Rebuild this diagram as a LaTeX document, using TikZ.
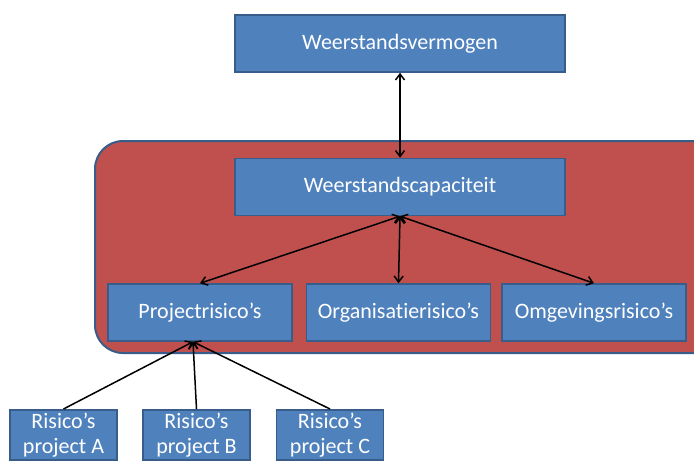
\documentclass[tikz,border=0pt]{standalone}
\usepackage{fontspec}
\setmainfont{Carlito}[Ligatures=NoCommon]
\usepackage{xcolor}
\usetikzlibrary{arrows.meta,positioning}
\definecolor{boxblue}{HTML}{4F81BD}
\definecolor{boxline}{HTML}{385D8A}
\definecolor{boxred}{HTML}{C0504D}
\tikzset{
  wbox/.style={draw=boxline, fill=boxblue, line width=1.5pt, text=white, align=center, font=\fontsize{22}{27}\selectfont, inner sep=0pt, minimum height=57pt},
  rbox/.style={wbox, minimum width=184pt},
  pbox/.style={wbox, minimum width=107pt, minimum height=0pt, inner ysep=3pt, anchor=north, font=\fontsize{22}{25}\selectfont},
  redbox/.style={draw=boxline, fill=boxred, line width=2pt, rounded corners=28pt},
  warr/.style={{Straight Barb[length=6pt,width=9pt]}-{Straight Barb[length=6pt,width=9pt]}, line width=1.5pt},
  parr/.style={-{Straight Barb[length=6pt,width=9pt]}, line width=1.5pt}
}

\begin{document}
\begin{tikzpicture}[x=1pt,y=-1pt]
\clip (0,0) rectangle (694,461);
\fill[white] (0,0) rectangle (694,461);
\draw[redbox] (95,141) rectangle (730,353);
\node[wbox, minimum width=330pt] (w1) at (400,43.5) {Weerstandsvermogen};
\node[wbox, minimum width=330pt, below=85pt of w1] (w2) {Weerstandscapaciteit};
\node[rbox] (p1) at (200,312.5) {Projectrisico’s};
\node[rbox, right=13pt of p1] (p2) {Organisatierisico’s};
\node[rbox, right=10pt of p2] (p3) {Omgevingsrisico’s};
\node[pbox] (r1) at (63.5,409) {Risico’s\\project A};
\node[pbox] (r2) at (196.5,409) {Risico’s\\project B};
\node[pbox] (r3) at (330,409) {Risico’s\\project C};
\draw[warr] (w1)--(w2);
\draw[warr] (w2.south)--(p1.north);
\draw[warr] (w2.south)--(p2.north);
\draw[warr] (w2.south)--(p3.north);
\draw[parr] (r1.north)--([xshift=-7pt]p1.south);
\draw[parr] (r2.north)--([xshift=-7pt]p1.south);
\draw[parr] (r3.north)--([xshift=-7pt]p1.south);
\end{tikzpicture}
\end{document}
